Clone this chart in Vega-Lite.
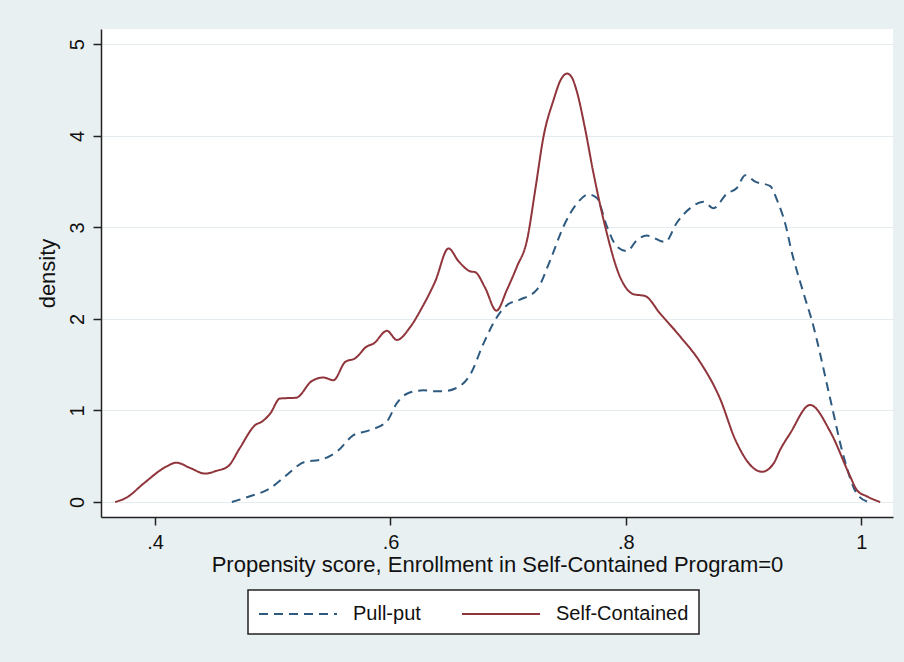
{
  "$schema": "https://vega.github.io/schema/vega-lite/v6.json",
  "width": 792,
  "height": 488,
  "autosize": {"type": "none"},
  "padding": {"left": 101, "top": 29, "right": 11, "bottom": 145},
  "background": "#E9F0F2",
  "config": {
    "font": "Liberation Sans",
    "view": {"stroke": null, "fill": "white"},
    "axis": {
      "domainColor": "#222222",
      "domainWidth": 1.5,
      "tickColor": "#222222",
      "tickWidth": 1.5,
      "tickSize": 8,
      "labelColor": "#111111",
      "titleColor": "#111111",
      "labelFontSize": 20,
      "titleFontSize": 22,
      "titleFontWeight": "normal",
      "gridColor": "#E4ECEF",
      "gridWidth": 1.2
    },
    "legend": {
      "orient": "none",
      "legendX": 147,
      "legendY": 561,
      "direction": "horizontal",
      "fillColor": "white",
      "strokeColor": "#222222",
      "strokeWidth": 1.5,
      "padding": 10,
      "labelFontSize": 20,
      "labelColor": "#111111",
      "labelOffset": 67,
      "columnPadding": 37,
      "symbolType": "M-1,0H5",
      "symbolSize": 676,
      "symbolStrokeWidth": 2,
      "symbolFillColor": "transparent",
      "labelLimit": 400
    }
  },
  "data": {
    "values": [
      {"series": "Pull-put", "x": 0.4652, "d": 0},
      {"series": "Pull-put", "x": 0.480, "d": 0.06},
      {"series": "Pull-put", "x": 0.4977, "d": 0.15},
      {"series": "Pull-put", "x": 0.5105, "d": 0.28},
      {"series": "Pull-put", "x": 0.5275, "d": 0.44},
      {"series": "Pull-put", "x": 0.540, "d": 0.46},
      {"series": "Pull-put", "x": 0.5544, "d": 0.55},
      {"series": "Pull-put", "x": 0.5685, "d": 0.73},
      {"series": "Pull-put", "x": 0.5813, "d": 0.78},
      {"series": "Pull-put", "x": 0.5969, "d": 0.88},
      {"series": "Pull-put", "x": 0.6054, "d": 1.08},
      {"series": "Pull-put", "x": 0.6153, "d": 1.19},
      {"series": "Pull-put", "x": 0.628, "d": 1.22},
      {"series": "Pull-put", "x": 0.638, "d": 1.21},
      {"series": "Pull-put", "x": 0.645, "d": 1.21},
      {"series": "Pull-put", "x": 0.655, "d": 1.24},
      {"series": "Pull-put", "x": 0.6677, "d": 1.39},
      {"series": "Pull-put", "x": 0.679, "d": 1.73},
      {"series": "Pull-put", "x": 0.690, "d": 2.01},
      {"series": "Pull-put", "x": 0.6989, "d": 2.15},
      {"series": "Pull-put", "x": 0.710, "d": 2.21},
      {"series": "Pull-put", "x": 0.7244, "d": 2.32},
      {"series": "Pull-put", "x": 0.7357, "d": 2.64},
      {"series": "Pull-put", "x": 0.747, "d": 3.01},
      {"series": "Pull-put", "x": 0.7584, "d": 3.26},
      {"series": "Pull-put", "x": 0.7683, "d": 3.36},
      {"series": "Pull-put", "x": 0.7754, "d": 3.32},
      {"series": "Pull-put", "x": 0.7839, "d": 3.01},
      {"series": "Pull-put", "x": 0.7924, "d": 2.79},
      {"series": "Pull-put", "x": 0.8009, "d": 2.74},
      {"series": "Pull-put", "x": 0.8094, "d": 2.86},
      {"series": "Pull-put", "x": 0.8179, "d": 2.91},
      {"series": "Pull-put", "x": 0.8334, "d": 2.84},
      {"series": "Pull-put", "x": 0.8433, "d": 3.05},
      {"series": "Pull-put", "x": 0.8547, "d": 3.21},
      {"series": "Pull-put", "x": 0.866, "d": 3.28},
      {"series": "Pull-put", "x": 0.8745, "d": 3.21},
      {"series": "Pull-put", "x": 0.8859, "d": 3.37},
      {"series": "Pull-put", "x": 0.8943, "d": 3.43},
      {"series": "Pull-put", "x": 0.9014, "d": 3.57},
      {"series": "Pull-put", "x": 0.9099, "d": 3.50},
      {"series": "Pull-put", "x": 0.9227, "d": 3.45},
      {"series": "Pull-put", "x": 0.9284, "d": 3.30},
      {"series": "Pull-put", "x": 0.9368, "d": 2.97},
      {"series": "Pull-put", "x": 0.9397, "d": 2.80},
      {"series": "Pull-put", "x": 0.951, "d": 2.28},
      {"series": "Pull-put", "x": 0.9594, "d": 1.92},
      {"series": "Pull-put", "x": 0.9623, "d": 1.77},
      {"series": "Pull-put", "x": 0.9736, "d": 1.13},
      {"series": "Pull-put", "x": 0.985, "d": 0.50},
      {"series": "Pull-put", "x": 0.9963, "d": 0.09},
      {"series": "Pull-put", "x": 1.006, "d": 0},
      {"series": "Self-Contained", "x": 0.366, "d": 0},
      {"series": "Self-Contained", "x": 0.376, "d": 0.05},
      {"series": "Self-Contained", "x": 0.390, "d": 0.20},
      {"series": "Self-Contained", "x": 0.410, "d": 0.39},
      {"series": "Self-Contained", "x": 0.418, "d": 0.43},
      {"series": "Self-Contained", "x": 0.430, "d": 0.37},
      {"series": "Self-Contained", "x": 0.4425, "d": 0.31},
      {"series": "Self-Contained", "x": 0.452, "d": 0.34},
      {"series": "Self-Contained", "x": 0.462, "d": 0.39},
      {"series": "Self-Contained", "x": 0.472, "d": 0.59},
      {"series": "Self-Contained", "x": 0.485, "d": 0.84},
      {"series": "Self-Contained", "x": 0.491, "d": 0.88},
      {"series": "Self-Contained", "x": 0.498, "d": 0.97},
      {"series": "Self-Contained", "x": 0.506, "d": 1.13},
      {"series": "Self-Contained", "x": 0.520, "d": 1.14},
      {"series": "Self-Contained", "x": 0.533, "d": 1.32},
      {"series": "Self-Contained", "x": 0.543, "d": 1.36},
      {"series": "Self-Contained", "x": 0.5515, "d": 1.33},
      {"series": "Self-Contained", "x": 0.5615, "d": 1.53},
      {"series": "Self-Contained", "x": 0.570, "d": 1.57},
      {"series": "Self-Contained", "x": 0.580, "d": 1.70},
      {"series": "Self-Contained", "x": 0.5855, "d": 1.73},
      {"series": "Self-Contained", "x": 0.597, "d": 1.87},
      {"series": "Self-Contained", "x": 0.6054, "d": 1.77},
      {"series": "Self-Contained", "x": 0.6167, "d": 1.91},
      {"series": "Self-Contained", "x": 0.6266, "d": 2.12},
      {"series": "Self-Contained", "x": 0.638, "d": 2.41},
      {"series": "Self-Contained", "x": 0.6493, "d": 2.77},
      {"series": "Self-Contained", "x": 0.6578, "d": 2.63},
      {"series": "Self-Contained", "x": 0.6677, "d": 2.52},
      {"series": "Self-Contained", "x": 0.672, "d": 2.51},
      {"series": "Self-Contained", "x": 0.6804, "d": 2.34},
      {"series": "Self-Contained", "x": 0.690, "d": 2.09},
      {"series": "Self-Contained", "x": 0.699, "d": 2.32},
      {"series": "Self-Contained", "x": 0.7074, "d": 2.57},
      {"series": "Self-Contained", "x": 0.716, "d": 2.86},
      {"series": "Self-Contained", "x": 0.723, "d": 3.41},
      {"series": "Self-Contained", "x": 0.730, "d": 3.99},
      {"series": "Self-Contained", "x": 0.7385, "d": 4.39},
      {"series": "Self-Contained", "x": 0.745, "d": 4.62},
      {"series": "Self-Contained", "x": 0.750, "d": 4.68},
      {"series": "Self-Contained", "x": 0.754, "d": 4.64},
      {"series": "Self-Contained", "x": 0.758, "d": 4.50},
      {"series": "Self-Contained", "x": 0.765, "d": 4.10},
      {"series": "Self-Contained", "x": 0.7725, "d": 3.59},
      {"series": "Self-Contained", "x": 0.7824, "d": 3.01},
      {"series": "Self-Contained", "x": 0.795, "d": 2.46},
      {"series": "Self-Contained", "x": 0.8065, "d": 2.27},
      {"series": "Self-Contained", "x": 0.8164, "d": 2.25},
      {"series": "Self-Contained", "x": 0.829, "d": 2.06},
      {"series": "Self-Contained", "x": 0.846, "d": 1.81},
      {"series": "Self-Contained", "x": 0.863, "d": 1.53},
      {"series": "Self-Contained", "x": 0.880, "d": 1.13},
      {"series": "Self-Contained", "x": 0.893, "d": 0.68},
      {"series": "Self-Contained", "x": 0.9085, "d": 0.37},
      {"series": "Self-Contained", "x": 0.9156, "d": 0.33},
      {"series": "Self-Contained", "x": 0.9255, "d": 0.42},
      {"series": "Self-Contained", "x": 0.9311, "d": 0.57},
      {"series": "Self-Contained", "x": 0.9396, "d": 0.75},
      {"series": "Self-Contained", "x": 0.9566, "d": 1.06},
      {"series": "Self-Contained", "x": 0.9736, "d": 0.77},
      {"series": "Self-Contained", "x": 0.9906, "d": 0.28},
      {"series": "Self-Contained", "x": 0.9963, "d": 0.13},
      {"series": "Self-Contained", "x": 1.005, "d": 0.06},
      {"series": "Self-Contained", "x": 1.0161, "d": 0}
    ]
  },
  "mark": {"type": "line", "strokeWidth": 2, "interpolate": "monotone"},
  "encoding": {
    "x": {
      "field": "x",
      "type": "quantitative",
      "scale": {"domain": [0.354, 1.027], "nice": false, "zero": false},
      "axis": {
        "title": "Propensity score, Enrollment in Self-Contained Program=0",
        "values": [0.4, 0.6, 0.8, 1.0],
        "labelExpr": "datum.value >= 1 ? '1' : '.' + round(datum.value * 10)",
        "grid": false,
        "labelPadding": 7,
        "titlePadding": 2
      }
    },
    "y": {
      "field": "d",
      "type": "quantitative",
      "scale": {"domain": [-0.164, 5.167], "nice": false, "zero": false},
      "axis": {
        "title": "density",
        "values": [0, 1, 2, 3, 4, 5],
        "grid": true,
        "labelAngle": -90,
        "labelAlign": "center",
        "labelBaseline": "bottom",
        "labelPadding": 6,
        "titlePadding": 8
      }
    },
    "color": {
      "field": "series",
      "type": "nominal",
      "scale": {"domain": ["Pull-put", "Self-Contained"], "range": ["#2E5A80", "#90353B"]},
      "legend": {"title": null}
    },
    "strokeDash": {
      "field": "series",
      "type": "nominal",
      "scale": {"domain": ["Pull-put", "Self-Contained"], "range": [[9, 6], [1, 0]]},
      "legend": {"title": null}
    }
  }
}
